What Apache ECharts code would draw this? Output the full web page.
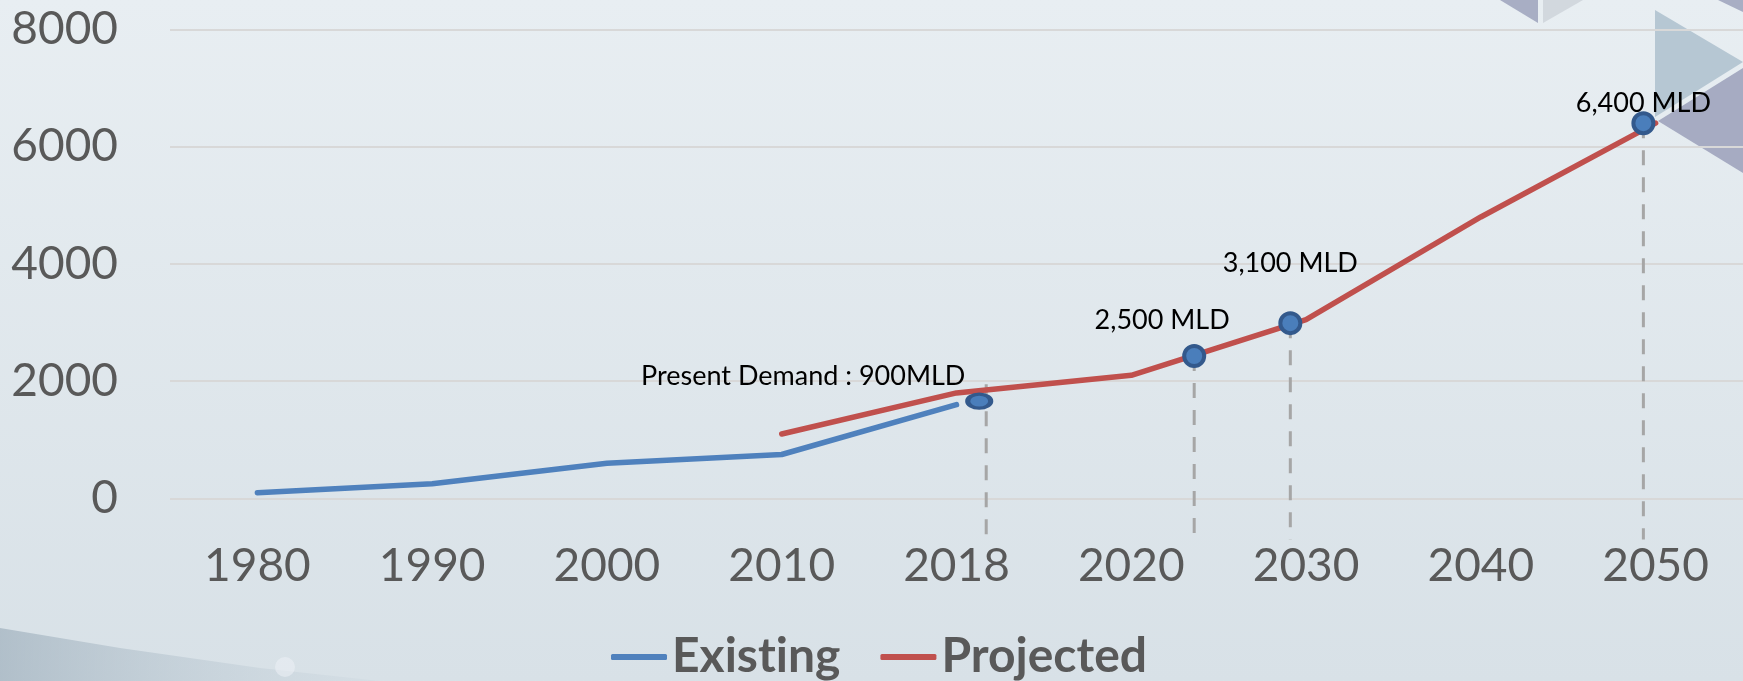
<!DOCTYPE html>
<html>
<head>
<meta charset="utf-8">
<script src="https://cdn.jsdelivr.net/npm/echarts@6/dist/echarts.min.js"></script>
<style>
  html, body { margin: 0; padding: 0; }
  #main { width: 1743px; height: 681px; }
</style>
</head>
<body>
<div id="main"></div>
<script>
// x axis categories
var years = ['1980', '1990', '2000', '2010', '2018', '2020', '2030', '2040', '2050'];
// y axis
var yMin = 0, yMax = 8000, yStep = 2000;
// water supply, MLD
var existing = [100, 250, 600, 750, 1600, null, null, null, null];
var projected = [null, null, null, 1100, 1800, 2100, 3050, 4800, 6400];
// highlighted points: position along the year axis (index), value
var markerPos = [4.13, 5.36, 5.91, 7.93];
var markerVal = [1660, 2430, 2990, 6400];
var markerText = ['Present Demand : 900MLD', '2,500 MLD', '3,100 MLD', '6,400 MLD'];
// dashed drop lines under the points
var dropPos = [4.17, 5.36, 5.91, 7.93];
var dropTop = [1950, 2430, 2990, 6400];

// label placement around each point (px)
var labelShift = [[-176, -25], [-32, -36], [0, -60], [0, -20]];

var FONT = 'Lato';
var chart = echarts.init(document.getElementById('main'));

var option = {
    backgroundColor: {
        type: 'linear', x: 0, y: 0, x2: 0, y2: 1,
        colorStops: [{offset: 0, color: '#e8eef2'}, {offset: 1, color: '#d8e1e7'}]
    },
    animation: false,
    // decoration in the corners
    graphic: [
        {type: 'polygon', z: -1, silent: true, shape: {points: [[1500, 0], [1538, 0], [1538, 23]]}, style: {fill: '#a8aec4'}},
        {type: 'polygon', z: -1, silent: true, shape: {points: [[1543, 0], [1583, 0], [1543, 23]]}, style: {fill: '#d2d8de'}},
        {type: 'polygon', z: -1, silent: true, shape: {points: [[1718, 0], [1743, 0], [1743, 12]]}, style: {fill: '#a8aec4'}},
        {type: 'polygon', z: -1, silent: true, shape: {points: [[1655, 10], [1743, 62], [1655, 117]]}, style: {fill: '#b6c7d3'}},
        {type: 'polygon', z: -1, silent: true, shape: {points: [[1658, 121], [1743, 68], [1743, 173]]}, style: {fill: '#a6abc2'}},
        {type: 'polygon', z: -1, silent: true, shape: {points: [[0, 628], [120, 648], [260, 668], [380, 681], [0, 681]]},
            style: {fill: {type: 'linear', x: 0, y: 0, x2: 1, y2: 0,
                colorStops: [{offset: 0, color: 'rgba(150,168,182,0.6)'}, {offset: 1, color: 'rgba(190,204,214,0.15)'}]}}},
        {type: 'circle', z: -1, silent: true, shape: {cx: 285, cy: 667, r: 10}, style: {fill: 'rgba(236,241,245,0.55)'}}
    ],
    grid: {left: 170, right: 0, top: 29.3, bottom: 182.5, containLabel: false},
    legend: {
        left: 606, top: 628,
        icon: 'roundRect', itemWidth: 56, itemHeight: 6, itemGap: 40,
        textStyle: {fontFamily: FONT, fontWeight: 'bold', fontSize: 48, color: '#595959'},
        // break the "ti" ligature so the word reads as in the original
        formatter: function (name) { return name.replace('ti', 't\u200Ci'); },
        data: ['Existing', 'Projected']
    },
    xAxis: [{
        type: 'category', data: years, boundaryGap: true,
        axisLine: {show: false}, axisTick: {show: false}, splitLine: {show: false},
        axisLabel: {fontFamily: FONT, fontSize: 46, color: '#595959', margin: 45}
    }, {
        type: 'value', min: -0.5, max: 8.5, show: false
    }],
    yAxis: {
        type: 'value', min: yMin, max: yMax, interval: yStep,
        axisLine: {show: false}, axisTick: {show: false},
        splitLine: {lineStyle: {color: '#d8d8d8', width: 2}},
        axisLabel: {fontFamily: FONT, fontSize: 46, color: '#595959', margin: 52,
            formatter: function (v) { return String(v); }}
    },
    series: [
        {
            name: 'Existing', type: 'line', data: existing, showSymbol: false,
            lineStyle: {color: '#4f81bd', width: 5.5, cap: 'round'}, itemStyle: {color: '#4f81bd'}
        },
        {
            name: 'Projected', type: 'line', data: projected, showSymbol: false,
            lineStyle: {color: '#c0504d', width: 5.5, cap: 'round'}, itemStyle: {color: '#c0504d'}
        },
        {
            type: 'custom', xAxisIndex: 1, z: 3, silent: true,
            data: dropPos.map(function (x, i) { return [x, dropTop[i]]; }),
            renderItem: function (params, api) {
                var top = api.coord([api.value(0), api.value(1)]);
                var base = api.coord([api.value(0), 0]);
                return {
                    type: 'line',
                    shape: {x1: top[0], y1: top[1], x2: top[0], y2: base[1] + 41},
                    style: {stroke: '#a6a6a6', lineWidth: 3, lineDash: [15, 12]}
                };
            }
        },
        {
            type: 'scatter', xAxisIndex: 1, z: 5, silent: true,
            data: markerPos.map(function (x, i) {
                return {
                    value: [x, markerVal[i]],
                    symbol: i === 0 ? 'path://M10,0A10,10,0,1,1,10,20A10,10,0,1,1,10,0Z' : 'circle',
                    symbolSize: i === 0 ? [23, 14] : 20,
                    label: {offset: labelShift[i]}
                };
            }),
            itemStyle: {color: '#4a7ebb', borderColor: '#33598c', borderWidth: 4, opacity: 1},
            label: {
                show: true, position: 'inside', color: '#000',
                fontFamily: FONT, fontSize: 27,
                formatter: function (p) { return markerText[p.dataIndex]; }
            }
        }
    ]
};

chart.setOption(option);
</script>
</body>
</html>
